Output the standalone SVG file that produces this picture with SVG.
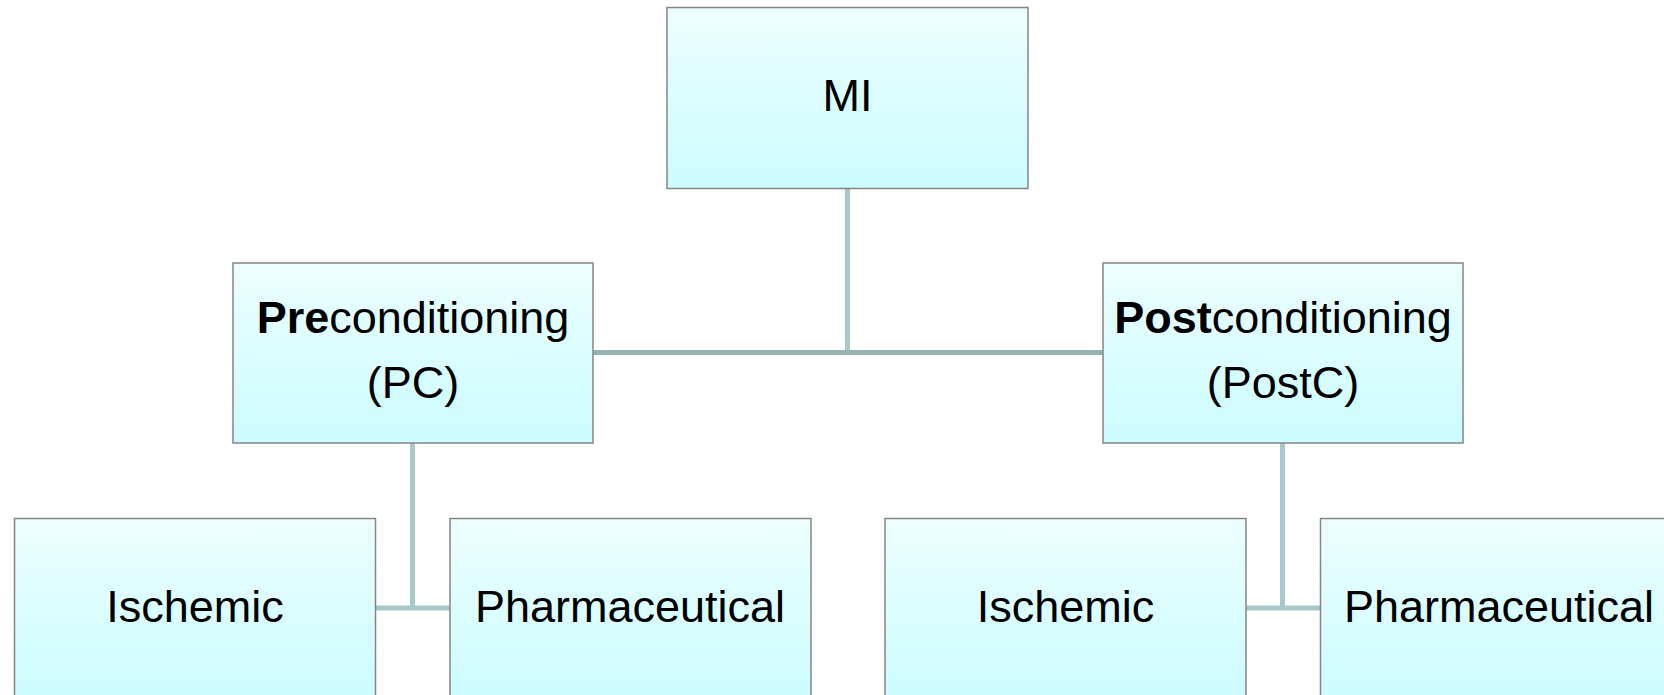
<svg xmlns="http://www.w3.org/2000/svg" width="1664" height="695" viewBox="0 0 1664 695">
<defs>
<linearGradient id="g" x1="0" y1="0" x2="0" y2="1">
<stop offset="0" stop-color="#ECFEFF"/>
<stop offset="1" stop-color="#CCFCFE"/>
</linearGradient>
<style>
.box{fill:url(#g);stroke:#858585;stroke-width:1.5}
.t{font-family:"Liberation Sans",Arial,sans-serif;font-size:45px;fill:#000;text-anchor:middle}
.b{font-weight:bold}
.c{stroke:#A8C9CC;stroke-width:5;fill:none}
.h{stroke:#95B4B8;stroke-width:5;fill:none}
</style>
</defs>
<rect width="1664" height="695" fill="#fff"/>
<g id="connectors">
<line class="c" x1="847.5" y1="188" x2="847.5" y2="352.5"/>
<line class="h" x1="593" y1="352.5" x2="1103" y2="352.5"/>
<line class="c" x1="412.5" y1="443" x2="412.5" y2="608"/>
<line class="c" x1="376" y1="608" x2="450" y2="608"/>
<line class="c" x1="1282.5" y1="443" x2="1282.5" y2="608"/>
<line class="c" x1="1246" y1="608" x2="1320" y2="608"/>
</g>
<g id="mi">
<rect class="box" x="667" y="7.5" width="361" height="181"/>
<text class="t" x="847.5" y="111">MI</text>
</g>
<g id="pc">
<rect class="box" x="233" y="263" width="360" height="180"/>
<text class="t" x="413" y="333"><tspan class="b">Pre</tspan>conditioning</text>
<text class="t" x="413" y="398">(PC)</text>
</g>
<g id="postc">
<rect class="box" x="1103" y="263" width="360" height="180"/>
<text class="t" x="1283" y="333"><tspan class="b">Post</tspan>conditioning</text>
<text class="t" x="1283" y="398">(PostC)</text>
</g>
<g id="pc-ischemic">
<rect class="box" x="14.5" y="518.5" width="361" height="181"/>
<text class="t" x="195" y="622">Ischemic</text>
</g>
<g id="pc-pharma">
<rect class="box" x="450" y="518.5" width="361" height="181"/>
<text class="t" x="630" y="622">Pharmaceutical</text>
</g>
<g id="postc-ischemic">
<rect class="box" x="885" y="518.5" width="361" height="181"/>
<text class="t" x="1065.5" y="622">Ischemic</text>
</g>
<g id="postc-pharma">
<rect class="box" x="1320.5" y="518.5" width="361" height="181"/>
<text class="t" x="1499" y="622">Pharmaceutical</text>
</g>
</svg>
